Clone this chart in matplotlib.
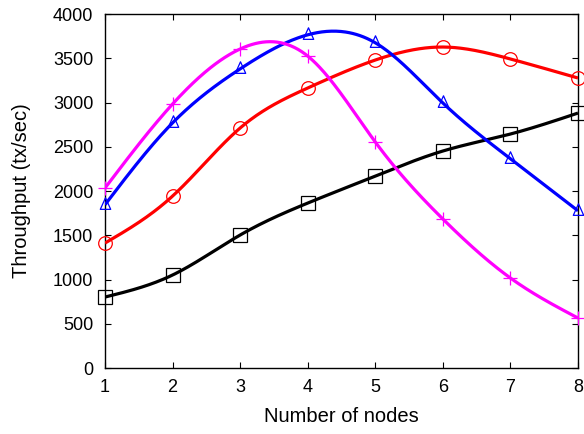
import numpy as np
import matplotlib
matplotlib.use("Agg")
import matplotlib.pyplot as plt
from matplotlib.path import Path

plt.rcParams['font.family'] = ['Liberation Sans', 'DejaVu Sans']

nodes = [1, 2, 3, 4, 5, 6, 7, 8]
black_vals = [802, 1051, 1503, 1864, 2169, 2452, 2644, 2881]
red_vals = [1412, 1943, 2712, 3164, 3480, 3627, 3492, 3277]
blue_vals = [1845, 2770, 3380, 3765, 3675, 2995, 2365, 1777]
magenta_vals = [2034, 2983, 3605, 3525, 2554, 1684, 1017, 565]


def natural_spline(x, y, n=400):
    x = np.asarray(x, float)
    y = np.asarray(y, float)
    m = len(x)
    h = np.diff(x)
    A = np.zeros((m, m))
    b = np.zeros(m)
    A[0, 0] = 1
    A[-1, -1] = 1
    for i in range(1, m - 1):
        A[i, i - 1] = h[i - 1]
        A[i, i] = 2 * (h[i - 1] + h[i])
        A[i, i + 1] = h[i]
        b[i] = 6 * ((y[i + 1] - y[i]) / h[i] - (y[i] - y[i - 1]) / h[i - 1])
    M = np.linalg.solve(A, b)
    xs = np.linspace(x[0], x[-1], n)
    idx = np.clip(np.searchsorted(x, xs) - 1, 0, m - 2)
    x0 = x[idx]; x1 = x[idx + 1]; hh = x1 - x0
    ys = (M[idx] * (x1 - xs) ** 3 / (6 * hh) + M[idx + 1] * (xs - x0) ** 3 / (6 * hh)
          + (y[idx] / hh - M[idx] * hh / 6) * (x1 - xs)
          + (y[idx + 1] / hh - M[idx + 1] * hh / 6) * (xs - x0))
    return xs, ys


# gnuplot-style triangle (apex higher than base offset)
tri = Path([(0, 4 / 3), (-0.9, -2 / 3), (0.9, -2 / 3), (0, 4 / 3)],
           [Path.MOVETO, Path.LINETO, Path.LINETO, Path.CLOSEPOLY])

fig = plt.figure(figsize=(5.84, 4.34), dpi=100)
ax = fig.add_axes([0.1798, 0.152, 0.8099, 0.8157])

series = [
    (black_vals, 'black', 's', 10),
    (red_vals, '#ff0000', 'o', 9.8),
    (blue_vals, '#0000ff', tri, 11.1),
    (magenta_vals, '#ff00ff', '+', 10),
]
for vals, col, mk, ms in series:
    xs, ys = natural_spline(nodes, vals)
    ax.plot(xs, ys, color=col, lw=2.3, solid_capstyle='butt', zorder=3)
for vals, col, mk, ms in series:
    ax.plot(nodes, vals, linestyle='none', marker=mk, markersize=ms,
            markerfacecolor='none', markeredgecolor=col, markeredgewidth=0.9,
            clip_on=False, zorder=4)

ax.set_xlim(1, 8)
ax.set_ylim(0, 4000)
ax.set_xticks(nodes)
ax.set_yticks(np.arange(0, 4001, 500))
ax.tick_params(direction='in', length=4, width=0.8, top=True, right=True,
               labelsize=13)
ax.tick_params(axis='x', pad=7.6)
ax.tick_params(axis='y', pad=8.4)
for s in ax.spines.values():
    s.set_linewidth(1.0)
ax.set_xlabel('Number of nodes', fontsize=14.5, labelpad=8.5)
ax.set_ylabel('Throughput (tx/sec)', fontsize=14.5, labelpad=16)

fig.savefig('out.png', dpi=100)
